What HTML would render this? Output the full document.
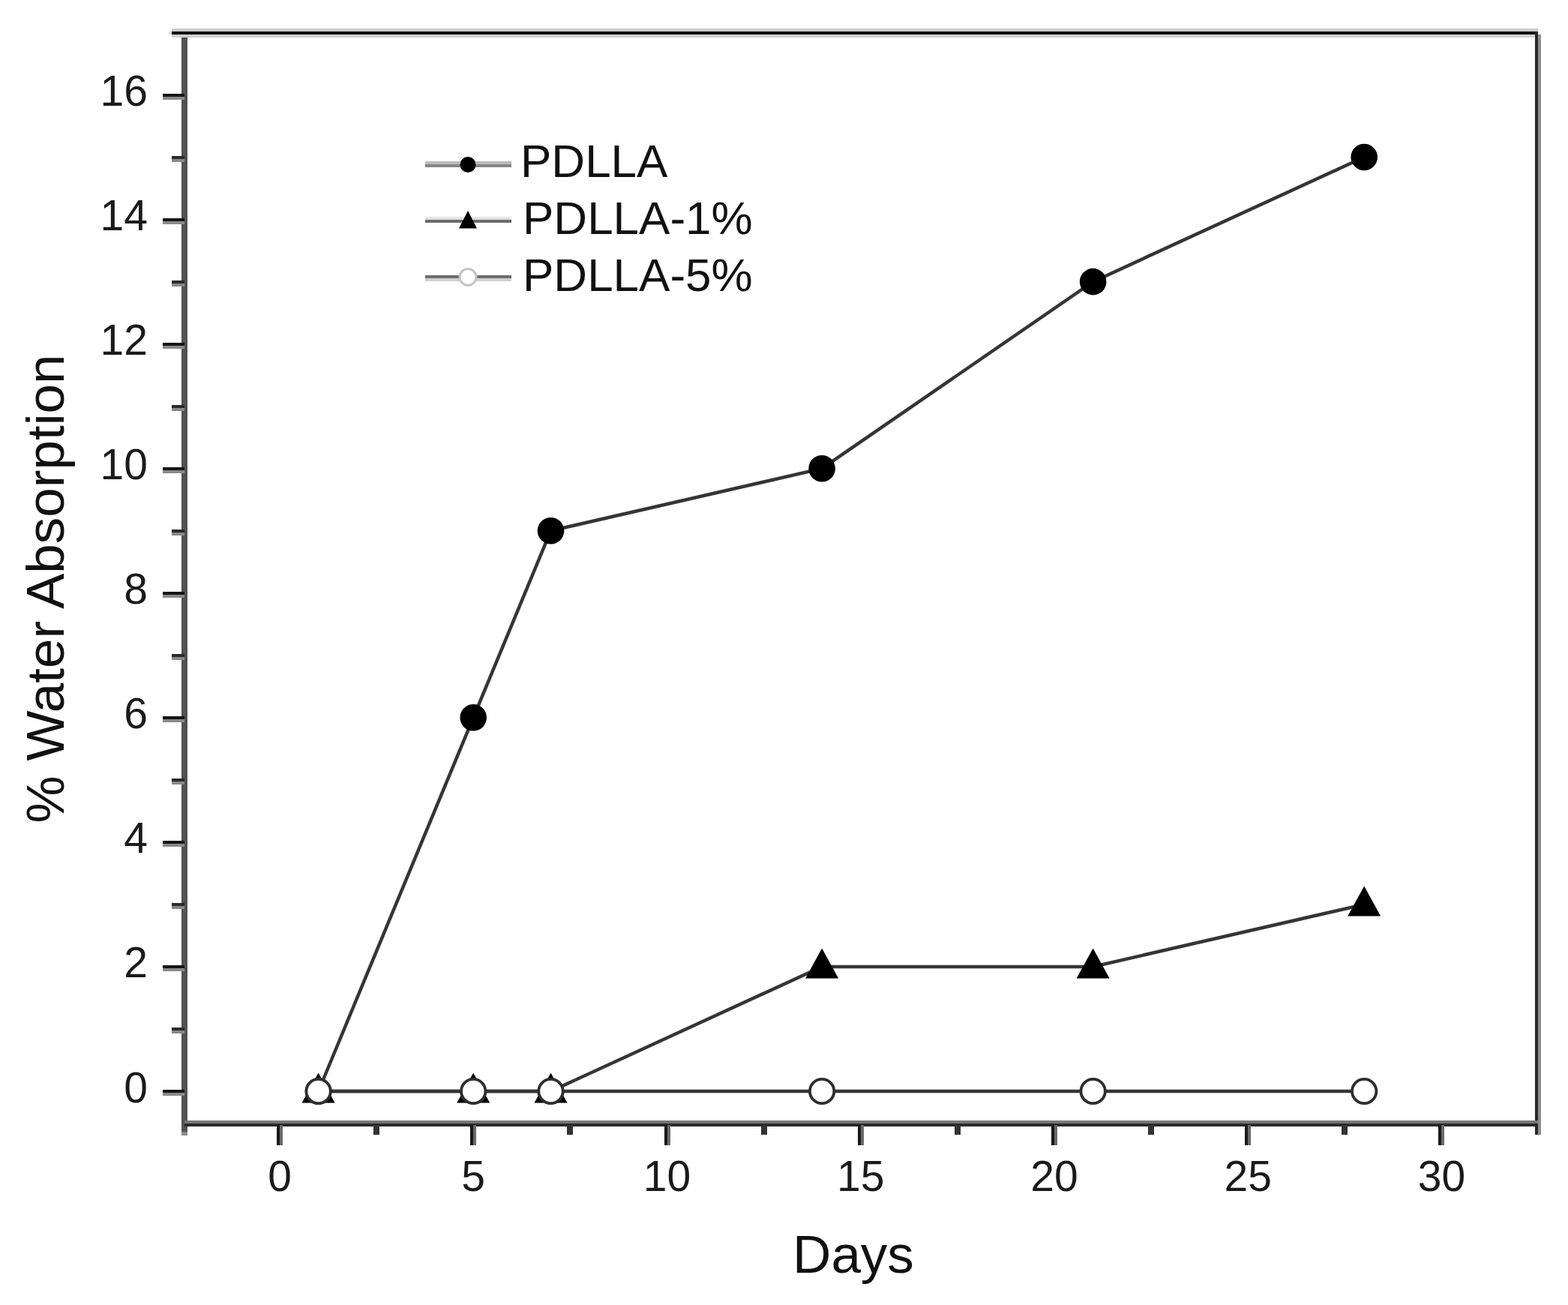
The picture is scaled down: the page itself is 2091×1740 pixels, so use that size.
<!DOCTYPE html>
<html><head><meta charset="utf-8"><title>% Water Absorption vs Days</title>
<style>
html,body{margin:0;padding:0;background:#fff;}
body{width:2091px;height:1740px;overflow:hidden;}
svg{display:block;}
.tk{font-family:"Liberation Sans", Arial, sans-serif;font-size:57px;fill:#1a1a1a;}
.lg{font-family:"Liberation Sans", Arial, sans-serif;font-size:62px;fill:#111;}
.ti{font-family:"Liberation Sans", Arial, sans-serif;font-size:71px;fill:#111;}
</style></head>
<body>
<svg width="2091" height="1740" viewBox="0 0 2091 1740">
<rect width="2091" height="1740" fill="#fff"/>
<rect x="242" y="42" width="8" height="1471" fill="#525252"/>
<rect x="242" y="1509" width="8" height="5" fill="#8a8a8a"/>
<rect x="229" y="38" width="1822" height="4" fill="#cccccc"/>
<rect x="229" y="46" width="1818" height="4" fill="#d0d0d0"/>
<rect x="229" y="42" width="1822" height="4" fill="#0d0d0d"/>
<rect x="225" y="42" width="4" height="4" fill="#dddddd"/>
<rect x="2047" y="42" width="4" height="1471" fill="#282828"/>
<rect x="2051" y="46" width="4" height="1467" fill="#8e8e8e"/>
<rect x="246" y="1494" width="1805" height="4" fill="#777777"/>
<rect x="246" y="1498" width="1805" height="4" fill="#2a2a2a"/>
<rect x="217" y="1453" width="29" height="4" fill="#151515"/>
<rect x="217" y="1457" width="29" height="4" fill="#8a8a8a"/>
<text x="197" y="1469.5" text-anchor="end" class="tk">0</text>
<rect x="229" y="1370" width="17" height="4" fill="#2a2a2a"/>
<rect x="229" y="1374" width="17" height="4" fill="#888888"/>
<rect x="217" y="1287" width="29" height="4" fill="#151515"/>
<rect x="217" y="1291" width="29" height="4" fill="#8a8a8a"/>
<text x="197" y="1303.4" text-anchor="end" class="tk">2</text>
<rect x="229" y="1204" width="17" height="4" fill="#2a2a2a"/>
<rect x="229" y="1208" width="17" height="4" fill="#888888"/>
<rect x="217" y="1121" width="29" height="4" fill="#151515"/>
<rect x="217" y="1125" width="29" height="4" fill="#8a8a8a"/>
<text x="197" y="1137.4" text-anchor="end" class="tk">4</text>
<rect x="229" y="1038" width="17" height="4" fill="#2a2a2a"/>
<rect x="229" y="1042" width="17" height="4" fill="#888888"/>
<rect x="217" y="955" width="29" height="4" fill="#151515"/>
<rect x="217" y="959" width="29" height="4" fill="#8a8a8a"/>
<text x="197" y="971.3" text-anchor="end" class="tk">6</text>
<rect x="229" y="872" width="17" height="4" fill="#2a2a2a"/>
<rect x="229" y="876" width="17" height="4" fill="#888888"/>
<rect x="217" y="789" width="29" height="4" fill="#151515"/>
<rect x="217" y="793" width="29" height="4" fill="#8a8a8a"/>
<text x="197" y="805.3" text-anchor="end" class="tk">8</text>
<rect x="229" y="706" width="17" height="4" fill="#2a2a2a"/>
<rect x="229" y="710" width="17" height="4" fill="#888888"/>
<rect x="217" y="623" width="29" height="4" fill="#151515"/>
<rect x="217" y="627" width="29" height="4" fill="#8a8a8a"/>
<text x="197" y="639.2" text-anchor="end" class="tk">10</text>
<rect x="229" y="540" width="17" height="4" fill="#2a2a2a"/>
<rect x="229" y="544" width="17" height="4" fill="#888888"/>
<rect x="217" y="457" width="29" height="4" fill="#151515"/>
<rect x="217" y="461" width="29" height="4" fill="#8a8a8a"/>
<text x="197" y="473.1" text-anchor="end" class="tk">12</text>
<rect x="229" y="374" width="17" height="4" fill="#2a2a2a"/>
<rect x="229" y="378" width="17" height="4" fill="#888888"/>
<rect x="217" y="291" width="29" height="4" fill="#151515"/>
<rect x="217" y="295" width="29" height="4" fill="#8a8a8a"/>
<text x="197" y="307.1" text-anchor="end" class="tk">14</text>
<rect x="229" y="208" width="17" height="4" fill="#2a2a2a"/>
<rect x="229" y="212" width="17" height="4" fill="#888888"/>
<rect x="217" y="125" width="29" height="4" fill="#151515"/>
<rect x="217" y="129" width="29" height="4" fill="#8a8a8a"/>
<text x="197" y="141.0" text-anchor="end" class="tk">16</text>
<rect x="369" y="1500" width="4" height="27" fill="#1a1a1a"/>
<rect x="373" y="1500" width="4" height="27" fill="#6a6a6a"/>
<text x="373.0" y="1588" text-anchor="middle" class="tk">0</text>
<rect x="498" y="1500" width="8" height="13" fill="#333333"/>
<rect x="627" y="1500" width="4" height="27" fill="#1a1a1a"/>
<rect x="631" y="1500" width="4" height="27" fill="#6a6a6a"/>
<text x="631.2" y="1588" text-anchor="middle" class="tk">5</text>
<rect x="756" y="1500" width="8" height="13" fill="#333333"/>
<rect x="886" y="1500" width="4" height="27" fill="#1a1a1a"/>
<rect x="890" y="1500" width="4" height="27" fill="#6a6a6a"/>
<text x="889.5" y="1588" text-anchor="middle" class="tk">10</text>
<rect x="1015" y="1500" width="8" height="13" fill="#333333"/>
<rect x="1144" y="1500" width="4" height="27" fill="#1a1a1a"/>
<rect x="1148" y="1500" width="4" height="27" fill="#6a6a6a"/>
<text x="1147.8" y="1588" text-anchor="middle" class="tk">15</text>
<rect x="1273" y="1500" width="8" height="13" fill="#333333"/>
<rect x="1402" y="1500" width="4" height="27" fill="#1a1a1a"/>
<rect x="1406" y="1500" width="4" height="27" fill="#6a6a6a"/>
<text x="1406.0" y="1588" text-anchor="middle" class="tk">20</text>
<rect x="1531" y="1500" width="8" height="13" fill="#333333"/>
<rect x="1660" y="1500" width="4" height="27" fill="#1a1a1a"/>
<rect x="1664" y="1500" width="4" height="27" fill="#6a6a6a"/>
<text x="1664.2" y="1588" text-anchor="middle" class="tk">25</text>
<rect x="1789" y="1500" width="8" height="13" fill="#333333"/>
<rect x="1918" y="1500" width="4" height="27" fill="#1a1a1a"/>
<rect x="1922" y="1500" width="4" height="27" fill="#6a6a6a"/>
<text x="1922.5" y="1588" text-anchor="middle" class="tk">30</text>
<polyline points="424.6,1455.0 631.2,1455.0 734.5,1455.0 1096.1,1455.0 1457.6,1455.0 1819.2,1455.0" fill="none" stroke="#353535" stroke-width="4.5"/>
<polyline points="424.6,1455.0 631.2,1455.0 734.5,1455.0 1096.1,1288.9 1457.6,1288.9 1819.2,1205.9" fill="none" stroke="#353535" stroke-width="4.5"/>
<polyline points="424.6,1455.0 631.2,956.8 734.5,707.7 1096.1,624.7 1457.6,375.6 1819.2,209.5" fill="none" stroke="#353535" stroke-width="4.5"/>
<circle cx="424.6" cy="1455.0" r="17.8" fill="#000"/>
<circle cx="631.2" cy="956.8" r="17.8" fill="#000"/>
<circle cx="734.5" cy="707.7" r="17.8" fill="#000"/>
<circle cx="1096.1" cy="624.7" r="17.8" fill="#000"/>
<circle cx="1457.6" cy="375.6" r="17.8" fill="#000"/>
<circle cx="1819.2" cy="209.5" r="17.8" fill="#000"/>
<polygon points="424.6,1430.5 446.6,1470.5 402.6,1470.5" fill="#000"/>
<polygon points="631.2,1430.5 653.2,1470.5 609.2,1470.5" fill="#000"/>
<polygon points="734.5,1430.5 756.5,1470.5 712.5,1470.5" fill="#000"/>
<polygon points="1096.1,1264.4 1118.1,1304.4 1074.1,1304.4" fill="#000"/>
<polygon points="1457.6,1264.4 1479.6,1304.4 1435.6,1304.4" fill="#000"/>
<polygon points="1819.2,1181.4 1841.2,1221.4 1797.2,1221.4" fill="#000"/>
<circle cx="424.6" cy="1455.0" r="16.2" fill="#fff" stroke="#2e2e2e" stroke-width="3.8"/>
<circle cx="631.2" cy="1455.0" r="16.2" fill="#fff" stroke="#2e2e2e" stroke-width="3.8"/>
<circle cx="734.5" cy="1455.0" r="16.2" fill="#fff" stroke="#2e2e2e" stroke-width="3.8"/>
<circle cx="1096.1" cy="1455.0" r="16.2" fill="#fff" stroke="#2e2e2e" stroke-width="3.8"/>
<circle cx="1457.6" cy="1455.0" r="16.2" fill="#fff" stroke="#2e2e2e" stroke-width="3.8"/>
<circle cx="1819.2" cy="1455.0" r="16.2" fill="#fff" stroke="#2e2e2e" stroke-width="3.8"/>
<rect x="567" y="215" width="115" height="4" fill="#bbbbbb"/>
<rect x="567" y="219" width="115" height="4" fill="#858585"/>
<circle cx="624" cy="219.5" r="10.5" fill="#000"/>
<rect x="567" y="289" width="115" height="4" fill="#e3e3e3"/>
<rect x="567" y="293" width="115" height="4" fill="#6b6b6b"/>
<polygon points="624,281 636,304.5 612,304.5" fill="#000"/>
<rect x="567" y="367" width="115" height="4" fill="#6e6e6e"/>
<rect x="567" y="371" width="115" height="4" fill="#d0d0d0"/>
<circle cx="624" cy="369.5" r="11" fill="#fff" stroke="#c4c4c4" stroke-width="3"/>
<text x="694" y="236" class="lg">PDLLA</text>
<text x="697" y="312" class="lg">PDLLA-1%</text>
<text x="697" y="388" class="lg">PDLLA-5%</text>
<text x="1138" y="1697" text-anchor="middle" class="ti">Days</text>
<text transform="translate(85,785) rotate(-90)" text-anchor="middle" class="ti">% Water Absorption</text>
</svg>
</body></html>
